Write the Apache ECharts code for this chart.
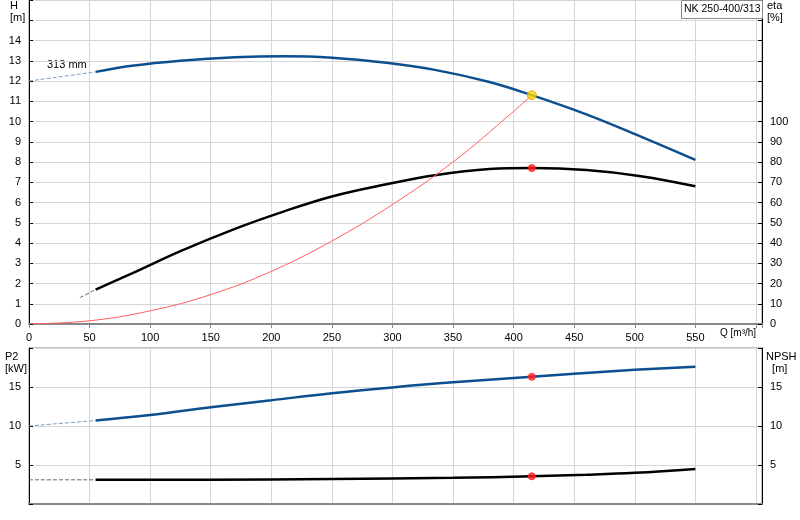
<!DOCTYPE html><html><head><meta charset="utf-8"><script src="https://cdn.jsdelivr.net/npm/echarts@6/dist/echarts.min.js"></script></head><body style="margin:0"><div id="c" style="width:800px;height:520px"></div><script>
const hCurve=[[55,12.45],[85,12.75],[125,13.0],[170,13.17],[210,13.22],[250,13.15],[295,12.9],[335,12.55],[380,11.95],[415,11.3],[460,10.35],[505,9.25],[550,8.1]];
const hDash=[[0,12.0],[55,12.45]];
const etaCurve=[[55,17],[85,25],[125,36],[170,47],[210,55.5],[250,63],[295,69],[335,73.5],[380,76.5],[415,77],[460,76],[505,73],[550,68]];
const etaDash=[[42,13],[55,17]];
const sysCurve=[[0,0],[50,0.16],[100,0.65],[150,1.45],[200,2.6],[250,4.1],[300,5.9],[350,8.0],[400,10.5],[415,11.3]];
const p2Curve=[[55,10.7],[100,11.4],[150,12.4],[200,13.3],[250,14.2],[300,14.95],[350,15.6],[415,16.3],[450,16.7],[500,17.2],[550,17.6]];
const p2Dash=[[0,10.0],[55,10.7]];
const npshCurve=[[55,3.1],[150,3.12],[250,3.2],[350,3.35],[415,3.55],[460,3.75],[500,4.0],[550,4.5]];
const npshDash=[[0,3.1],[55,3.1]];
const dutyH=[[415,11.3]],dutyEta=[[415,77]],dutyP2=[[415,16.3]],dutyNpsh=[[415,3.55]];
const F='Liberation Sans, Arial, sans-serif';
const gl={lineStyle:{color:'#d6d6d6'}};
const lbl={color:'#000',fontSize:11,fontFamily:F};
const xa=(gi,show)=>({type:'value',gridIndex:gi,min:0,max:605,interval:50,axisLine:{lineStyle:{color:'#888',width:2}},axisTick:{show:show,length:4,lineStyle:{color:'#888'}},splitLine:gl,axisLabel:{show:show,...lbl,formatter:v=>v>=600?'':v}});
const line=(d,c,w,xi,yi,dash)=>({type:'line',data:d,xAxisIndex:xi,yAxisIndex:yi,smooth:0.4,symbol:'none',lineStyle:{color:c,width:w,type:dash?'dashed':'solid'},z:dash?2:3});
const dot=(d,c,xi,yi,s)=>({type:'scatter',data:d,xAxisIndex:xi,yAxisIndex:yi,symbolSize:s,itemStyle:{color:c,borderColor:c==='#ffd400'?'#e0a000':c,borderWidth:1},z:5});
echarts.init(document.getElementById('c')).setOption({animation:false,
grid:[{left:29,right:38,top:0,bottom:196,show:true,borderColor:'#888'},{left:29,right:38,top:348,bottom:16,show:true,borderColor:'#888'}],
xAxis:[xa(0,true),xa(1,false)],
yAxis:[
{type:'value',gridIndex:0,min:0,max:16,interval:1,axisLine:{show:true,lineStyle:{color:'#000'}},axisTick:{show:true,length:4,inside:true,lineStyle:{color:'#000'}},splitLine:gl,axisLabel:{...lbl,formatter:v=>v>14?'':v}},
{type:'value',gridIndex:0,min:0,max:160,interval:10,position:'right',axisLine:{show:true,lineStyle:{color:'#000'}},axisTick:{show:true,length:4,inside:true,lineStyle:{color:'#000'}},splitLine:{show:false},axisLabel:{...lbl,formatter:v=>v>100?'':v}},
{type:'value',gridIndex:1,min:0,max:20,interval:5,axisLine:{show:true,lineStyle:{color:'#000'}},axisTick:{show:true,length:4,inside:true,lineStyle:{color:'#000'}},splitLine:gl,axisLabel:{...lbl,formatter:v=>(v===0||v===20)?'':v}},
{type:'value',gridIndex:1,min:0,max:20,interval:5,position:'right',axisLine:{show:true,lineStyle:{color:'#000'}},axisTick:{show:true,length:4,inside:true,lineStyle:{color:'#000'}},splitLine:{show:false},axisLabel:{...lbl,formatter:v=>(v===0||v===20)?'':v}}],
series:[
line(hDash,'#7f9cc0',1,0,0,true),line(hCurve,'#0b4f8f',2.5,0,0),
line(etaDash,'#666',1,0,1,true),line(etaCurve,'#000',2.5,0,1),
line(sysCurve,'#ff6060',1,0,0),
dot(dutyH,'#ffd400',0,0,9),dot(dutyEta,'#ff2020',0,1,7),
line(p2Dash,'#7f9cc0',1,1,2,true),line(p2Curve,'#0b4f8f',2.5,1,2),
line(npshDash,'#666',1,1,3,true),line(npshCurve,'#000',2.5,1,3),
dot(dutyP2,'#ff2020',1,2,7),dot(dutyNpsh,'#ff2020',1,3,7)],
graphic:[
{type:'text',left:10,top:0,style:{text:'H\n[m]',font:'11px '+F,fill:'#000',align:'center',lineHeight:12}},
{type:'text',left:767,top:0,style:{text:'eta\n[%]',font:'11px '+F,fill:'#000',lineHeight:12}},
{type:'text',left:5,top:351,style:{text:'P2\n[kW]',font:'11px '+F,fill:'#000',lineHeight:12}},
{type:'text',left:766,top:351,style:{text:'NPSH\n  [m]',font:'11px '+F,fill:'#000',lineHeight:12}},
{type:'text',left:47,top:59,style:{text:'313 mm',font:'11px '+F,fill:'#000'}},
{type:'text',left:720,top:328,style:{text:'Q [m³/h]',font:'10px '+F,fill:'#000'}},
{type:'rect',left:681,top:0,shape:{width:81,height:18},style:{fill:'#fff',stroke:'#888'},z:10},
{type:'text',left:684,top:4,style:{text:'NK 250-400/313',font:'10.5px '+F,fill:'#000'},z:11}]});
</script></body></html>
